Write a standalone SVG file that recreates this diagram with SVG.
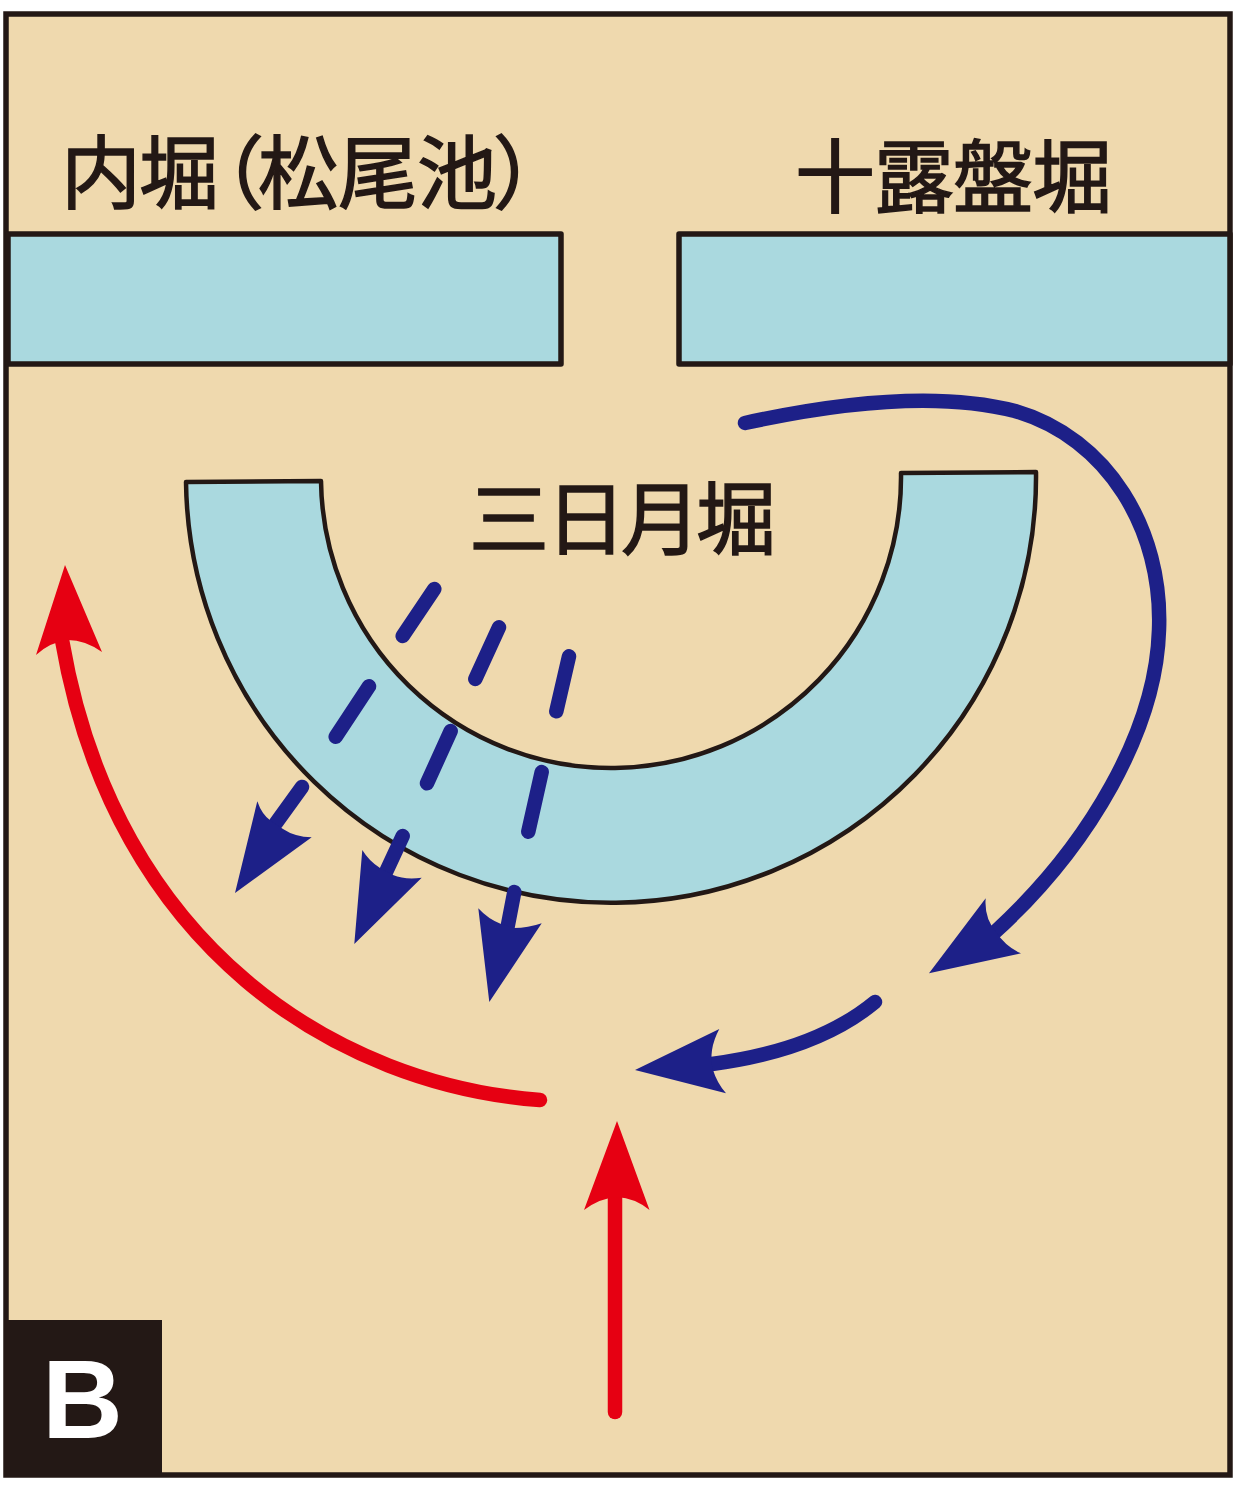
<svg xmlns="http://www.w3.org/2000/svg" width="1247" height="1488" viewBox="0 0 1247 1488">
<style>
.w{fill:#aad9df;stroke:#231815;stroke-width:5.5;stroke-linejoin:round}
.c{fill:#aad9df;stroke:#231815;stroke-width:4.5;stroke-linejoin:round}
.t{font-family:"Noto Sans CJK JP","Noto Sans CJK SC",sans-serif;font-size:80px;font-weight:400;fill:#231815;stroke:#231815;stroke-width:1.5}
.b{fill:none;stroke:#1d2088;stroke-width:14.5;stroke-linecap:round}
.r{fill:none;stroke:#e60012;stroke-width:14.5;stroke-linecap:round}
.bh{fill:#1d2088}.rh{fill:#e60012}
</style>
<rect width="1247" height="1488" fill="#fff"/>
<g id="frame"><rect x="6" y="14" width="1224" height="1461" fill="#efd9ae" stroke="#231815" stroke-width="5.5"/></g>
<g id="inner-moat"><rect class="w" x="8" y="234" width="553" height="130"/><text class="t" x="61 139 184 258 338 417 493" y="202">内堀（松尾池）</text></g>
<g id="jurobori"><rect class="w" x="679" y="234" width="551" height="130"/><text class="t" x="795 874 953 1032" y="206">十露盤堀</text></g>
<g id="mikazuki"><path class="c" d="M186,482 L321,481 A290,291 0 0 0 901,473 L1036,472 A425,426 0 0 1 186,482 Z"/><text class="t" x="469 546 621 696" y="548">三日月堀</text></g>
<g id="connectors">
<path class="b" d="M434.3,589 L402.7,636M499,627.3 L475.3,679M569,656.3 L556.3,711.3M369,686.3 L335.7,736.7M450.7,731 L427,783.3M541.7,772 L528.3,831.7"/>
<path class="b" d="M302,787 L276,823M402.7,836 L386,872M514.3,892 L507,930"/>
<path class="bh" d="M235,893 L257.3,801.3 Q262,815 271,821 L283,829 Q295,837 311.7,837.3 Z"/>
<path class="bh" d="M354.3,944 L362.3,850 Q369,861 380,868 L393,875 Q405,880 421.7,877.7 Z"/>
<path class="bh" d="M489.3,1002 L478.3,908.3 Q488,919 501,924 L514,928 Q528,928 541.7,923.3 Z"/>
<path class="b" d="M745,423 C850,400 945,393 1015,411 C1108,438 1163,530 1159,630 C1156,730 1090,845 995,932"/>
<path class="bh" d="M929,973.3 L985.7,898.3 Q984,918 996,932 Q1006,947 1021,953.3 Z"/>
<path class="b" d="M875,1002 C835,1035 780,1055 712,1064"/>
<path class="bh" d="M635,1070 L719.3,1029 Q708,1050 713,1070 Q717,1083 726,1093.3 Z"/>
<path class="r" d="M540,1100 C340,1085 115,950 62,640"/>
<path class="rh" d="M65,565 L102,652 Q85,640 68,640 Q50,642 36,655 Z"/>
<path class="r" d="M615,1412 L615,1195"/>
<path class="rh" d="M617,1121 L649.5,1210 Q635,1198 617,1197 Q600,1198 584,1210 Z"/>
</g>
<g id="label-b"><rect x="5" y="1320" width="157" height="157" fill="#231815"/><text x="42" y="1437.5" font-family="'Liberation Sans',Arial,sans-serif" font-weight="700" font-size="112" fill="#fff">B</text></g>
</svg>
